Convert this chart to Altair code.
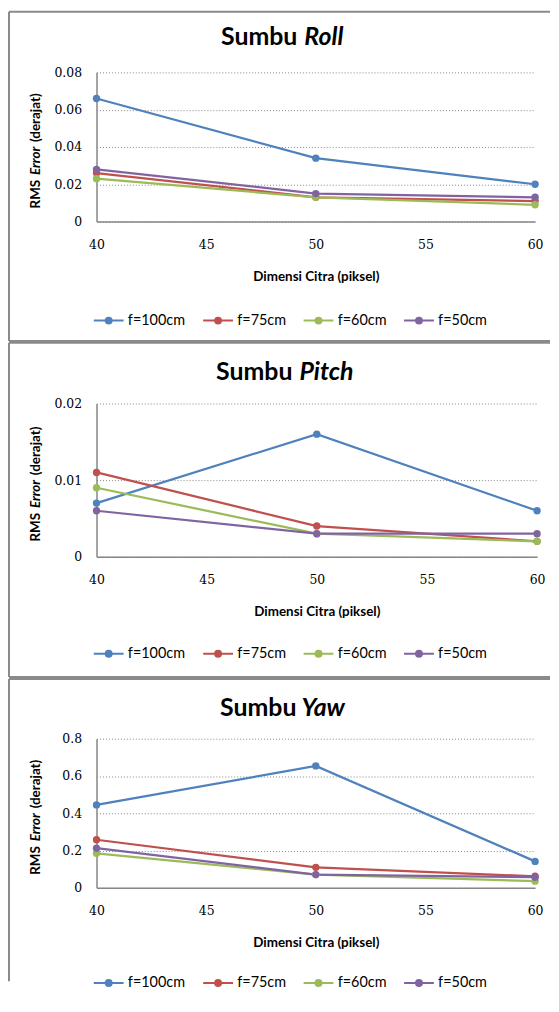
import altair as alt
import pandas as pd

# ---------------- data ----------------
X_VALUES = [40, 50, 60]
X_TICKS = [40, 45, 50, 55, 60]
SERIES = ["f=100cm", "f=75cm", "f=60cm", "f=50cm"]
COLORS = ["#4F81BD", "#C0504D", "#9BBB59", "#8064A2"]

ROLL_F100 = [0.066, 0.034, 0.020]
ROLL_F75 = [0.026, 0.013, 0.011]
ROLL_F60 = [0.023, 0.013, 0.009]
ROLL_F50 = [0.028, 0.015, 0.013]
ROLL_TICKS = [0, 0.02, 0.04, 0.06, 0.08]

PITCH_F100 = [0.007, 0.016, 0.006]
PITCH_F75 = [0.011, 0.004, 0.002]
PITCH_F60 = [0.009, 0.003, 0.002]
PITCH_F50 = [0.006, 0.003, 0.003]
PITCH_TICKS = [0, 0.01, 0.02]

YAW_F100 = [0.445, 0.654, 0.142]
YAW_F75 = [0.258, 0.110, 0.062]
YAW_F60 = [0.185, 0.071, 0.036]
YAW_F50 = [0.213, 0.071, 0.057]
YAW_TICKS = [0, 0.2, 0.4, 0.6, 0.8]

TITLE_WORD = "Sumbu"
AXIS_NAMES = ["Roll", "Pitch", "Yaw"]
X_TITLE = "Dimensi Citra (piksel)"
Y_TITLE_PARTS = ["RMS", "Error", "(derajat)"]

BORDER = "#8a8a8a"
AXISGRAY = "#868686"
LEGEND_PATH = ("M-3,0H3"
               "M-0.6,0A0.6,0.6,0,1,0,0.6,0A0.6,0.6,0,1,0,-0.6,0"
               "M-0.3,0A0.3,0.3,0,1,0,0.3,0A0.3,0.3,0,1,0,-0.3,0"
               "M-0.12,0A0.12,0.12,0,1,0,0.12,0A0.12,0.12,0,1,0,-0.12,0")

PLOT_X = 97  # common left edge of the plot areas (page px)


def frame(series_values):
    rows = []
    for s, vals in zip(SERIES, series_values):
        for x, v in zip(X_VALUES, vals):
            rows.append({"series": s, "dim": x, "rms": v})
    return pd.DataFrame(rows)


def one():
    return alt.Data(values=[{"k": 0}])


def panel(df, name, ticks, fmt, w, h, plot_y, top_b, bottom_b,
          left_bottom, title_split, title_base, leg_y):
    plot_x = PLOT_X
    ymax = ticks[-1]
    xs = alt.X("dim:Q",
               scale=alt.Scale(domain=[40, 60], nice=False, zero=False),
               axis=alt.Axis(values=X_TICKS, format="d", title=X_TITLE,
                             titleFont="Lato", titleFontSize=13.5,
                             titleFontWeight="bold", titleColor="black",
                             titleY=55, titleBaseline="middle",
                             labelFont="DejaVu Serif", labelFontSize=12.5,
                             labelColor="black", labelPadding=17,
                             labelFlush=False, ticks=False, grid=False,
                             domainColor=AXISGRAY, domainWidth=1.5))
    ys = alt.Y("rms:Q",
               scale=alt.Scale(domain=[0, ymax], nice=False, zero=True),
               axis=alt.Axis(values=ticks, format=fmt, title=None,
                             labelFont="DejaVu Serif", labelFontSize=12.5,
                             labelColor="black", labelPadding=15,
                             ticks=False, grid=True, gridColor=AXISGRAY,
                             gridDash=[1, 2], gridWidth=1,
                             domainColor=AXISGRAY, domainWidth=1.5))
    cscale = alt.Scale(domain=SERIES, range=COLORS)
    legend = alt.Legend(orient="none", legendX=102 - plot_x, legendY=leg_y,
                        direction="horizontal", title=None,
                        symbolType=LEGEND_PATH, symbolSize=100,
                        symbolStrokeWidth=2, labelFont="Lato",
                        labelFontSize=14.5, labelColor="black",
                        labelOffset=12, columnPadding=13, padding=0)
    lines = alt.Chart(df).mark_line(strokeWidth=2.25).encode(
        x=xs, y=ys,
        color=alt.Color("series:N", scale=cscale, legend=legend),
        detail="series:N")
    pts = alt.Chart(df).mark_point(filled=True, size=55, opacity=1).encode(
        x=xs, y=ys,
        color=alt.Color("series:N", scale=cscale, legend=None))

    lx = 9 - plot_x
    rx = 553 - plot_x
    deco = [
        alt.Chart(one()).mark_rule(color=BORDER, strokeWidth=2).encode(
            x=alt.value(lx), x2=alt.value(rx), y=alt.value(top_b - plot_y)),
        alt.Chart(one()).mark_rule(color=BORDER, strokeWidth=2).encode(
            x=alt.value(lx), y=alt.value(top_b - plot_y),
            y2=alt.value(left_bottom - plot_y)),
    ]
    if bottom_b is not None:
        deco.append(alt.Chart(one()).mark_rule(color=BORDER, strokeWidth=2).encode(
            x=alt.value(lx), x2=alt.value(rx), y=alt.value(bottom_b - plot_y)))

    t1 = alt.Chart(one()).mark_text(
        font="Lato", fontSize=25, fontWeight="bold", align="right",
        baseline="alphabetic", color="black").encode(
        x=alt.value(title_split[0] - plot_x), y=alt.value(title_base - plot_y),
        text=alt.value(TITLE_WORD))
    t2 = alt.Chart(one()).mark_text(
        font="Lato", fontSize=25, fontWeight="bold", fontStyle="italic",
        align="left", baseline="alphabetic", color="black").encode(
        x=alt.value(title_split[1] - plot_x), y=alt.value(title_base - plot_y),
        text=alt.value(name))

    c = h / 2 + 14
    ytx = 36 - plot_x
    yt1 = alt.Chart(one()).mark_text(
        font="Lato", fontSize=13.5, fontWeight="bold", angle=270,
        align="right", baseline="middle", color="black").encode(
        x=alt.value(ytx), y=alt.value(c + 19), text=alt.value(Y_TITLE_PARTS[0]))
    yt2 = alt.Chart(one()).mark_text(
        font="Lato", fontSize=13.5, fontWeight="bold", fontStyle="italic",
        angle=270, align="center", baseline="middle", color="black").encode(
        x=alt.value(ytx), y=alt.value(c), text=alt.value(Y_TITLE_PARTS[1]))
    yt3 = alt.Chart(one()).mark_text(
        font="Lato", fontSize=13.5, fontWeight="bold", angle=270,
        align="left", baseline="middle", color="black").encode(
        x=alt.value(ytx), y=alt.value(c - 19), text=alt.value(Y_TITLE_PARTS[2]))

    return alt.layer(*deco, lines, pts, t1, t2, yt1, yt2, yt3).properties(
        width=w, height=h)


p1 = panel(frame([ROLL_F100, ROLL_F75, ROLL_F60, ROLL_F50]), AXIS_NAMES[0],
           ROLL_TICKS, ".2~f", 441, 150, 70, 9, 340, 340,
           (299, 306), 42, 242)
p2 = panel(frame([PITCH_F100, PITCH_F75, PITCH_F60, PITCH_F50]), AXIS_NAMES[1],
           PITCH_TICKS, ".2~f", 443, 154, 403, 342, 678, 678,
           (294, 301), 379, 244)
p3 = panel(frame([YAW_F100, YAW_F75, YAW_F60, YAW_F50]), AXIS_NAMES[2],
           YAW_TICKS, ".1~f", 441, 150, 740, 680, None, 984,
           (298, 303), 717, 238)

chart = alt.concat(p1, p2, p3, columns=1, spacing=183,
                   bounds="flush").resolve_legend(color="independent").properties(
    padding=0, background="white"
).configure_view(stroke=None)

chart.save("out.html", embed_options={"renderer": "svg", "actions": False})
